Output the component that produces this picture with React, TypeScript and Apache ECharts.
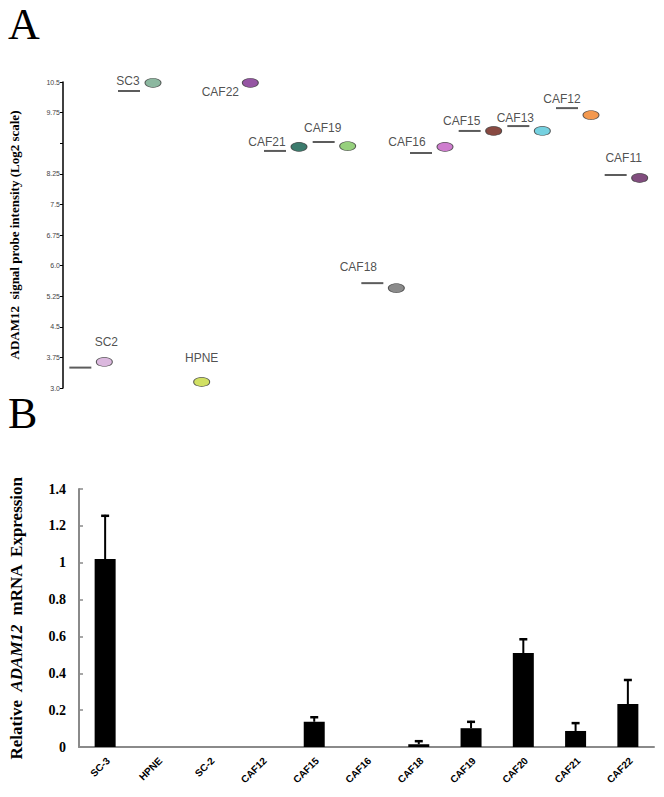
import React, { useEffect, useRef } from "react";
import * as echarts from "echarts";

// Panel A data
const aCategories = ["SC2", "SC3", "HPNE", "CAF22", "CAF21", "CAF19", "CAF18", "CAF16", "CAF15", "CAF13", "CAF12", "CAF11"];
const aPointValues = [3.64, 10.48, 3.15, 10.48, 8.91, 8.93, 5.45, 8.91, 9.3, 9.3, 9.69, 8.15];
const aDashValues = [3.5, 10.28, null, 10.67, 8.81, 9.03, 5.57, 8.76, 9.3, 9.42, 9.86, 8.22];
const aColors = ["#d2a6d6", "#6fa688", "#c6d83c", "#7b2a8c", "#0b5a48", "#7cc45c", "#6e6e6e", "#c25cc2", "#6a1c12", "#52c6d8", "#f07e22", "#62205e"];

// Panel B data
const bCategories = ["SC-3", "HPNE", "SC-2", "CAF12", "CAF15", "CAF16", "CAF18", "CAF19", "CAF20", "CAF21", "CAF22"];
const bValues = [1.02, 0, 0, 0, 0.137, 0, 0.015, 0.102, 0.51, 0.087, 0.233];
const bErrors = [0.24, 0, 0, 0, 0.03, 0, 0.022, 0.04, 0.08, 0.048, 0.136];

// label layout offsets (styling) relative to each point
const labelDx = [2, -25, 0, -30, -32, -25, -38, -38, -32, -27, -29, -16];
const labelDy = [-20, -2, -24, 9, -5, -18, -21, -5, -10, -13, -16, -20];

export default function App() {
  const ref = useRef<HTMLDivElement>(null);
  useEffect(() => {
    document.body.style.margin = "0";
    const chart = echarts.init(ref.current!, null, { renderer: "svg" });
    const panelLetters = [
      { type: "text", left: 8, top: 2, style: { text: "A", font: "44px 'Liberation Serif', serif", fill: "#000" } },
      { type: "text", left: 8, top: 391, style: { text: "B", font: "44px 'Liberation Serif', serif", fill: "#000" } },
    ];
    const option: any = {
      animation: false,
      backgroundColor: "#ffffff",
      graphic: { elements: panelLetters },
      grid: [
        { left: 78, top: 82, width: 595, height: 306 },
        { left: 72, top: 489, width: 582, height: 258 },
      ],
      xAxis: [
        { type: "category", gridIndex: 0, data: aCategories, show: false, boundaryGap: true },
        {
          type: "category",
          gridIndex: 1,
          data: bCategories,
          boundaryGap: true,
          axisLine: { lineStyle: { color: "#8a8a8a", width: 2 } },
          axisTick: { inside: true, length: 4, lineStyle: { color: "#8a8a8a", width: 1.5 } },
          axisLabel: { show: false },
        },
      ],
      yAxis: [
        {
          type: "value",
          gridIndex: 0,
          min: 3,
          max: 10.5,
          interval: 0.75,
          offset: 17,
          splitLine: { show: false },
          axisLine: { show: true, lineStyle: { color: "#000", width: 1.5 } },
          axisTick: { show: true, length: 3, lineStyle: { color: "#000" } },
          axisLabel: {
            fontSize: 7,
            color: "#444",
            fontFamily: "'Liberation Sans', Arial, sans-serif",
            margin: 3,
            formatter: (v: number) => (Math.abs(v - 9) < 1e-6 ? "" : Number.isInteger(v) ? v.toFixed(1) : String(v)),
          },
          name: "ADAM12  signal probe intensity (Log2 scale)",
          nameLocation: "middle",
          nameGap: 42,
          nameTextStyle: { fontFamily: "'Liberation Serif', serif", fontWeight: "bold", fontSize: 13, color: "#000" },
        },
        {
          type: "value",
          gridIndex: 1,
          min: 0,
          max: 1.4,
          interval: 0.2,
          splitLine: { show: false },
          axisLine: { show: true, lineStyle: { color: "#8a8a8a", width: 2 } },
          axisTick: { show: true, inside: true, length: 4, lineStyle: { color: "#8a8a8a", width: 1.5 } },
          axisLabel: {
            fontSize: 14,
            fontWeight: "bold",
            color: "#000",
            fontFamily: "'Liberation Serif', serif",
            margin: 13,
            formatter: (v: number) => (Number.isInteger(Math.round(v * 1000) / 1000) ? String(Math.round(v)) : v.toFixed(1)),
          },
          name: "{n|Relative  }{i|ADAM12}{n|  mRNA  Expression}",
          nameLocation: "middle",
          nameGap: 54,
          nameTextStyle: {
            rich: {
              n: { fontFamily: "'Liberation Serif', serif", fontWeight: "bold", fontSize: 17, color: "#000" },
              i: { fontFamily: "'Liberation Serif', serif", fontWeight: "bold", fontStyle: "italic", fontSize: 17, color: "#000" },
            },
          },
        },
      ],
      series: [
        {
          type: "scatter",
          xAxisIndex: 0,
          yAxisIndex: 0,
          symbol: "rect",
          symbolSize: [22, 2],
          symbolOffset: [-24, 0],
          itemStyle: { color: "#333" },
          data: aDashValues.map((v, i) => [i, v]),
          silent: true,
        },
        {
          type: "scatter",
          xAxisIndex: 0,
          yAxisIndex: 0,
          symbol: "circle",
          symbolSize: [16, 9],
          data: aPointValues.map((v, i) => ({
            value: [i, v],
            itemStyle: { color: aColors[i], borderColor: "#333", borderWidth: 0.8 },
            label: {
              show: true,
              position: "inside",
              offset: [labelDx[i], labelDy[i]],
              formatter: aCategories[i],
              fontSize: 12,
              fontFamily: "'Liberation Sans', Arial, sans-serif",
              color: "#222",
            },
          })),
        },
        {
          type: "bar",
          xAxisIndex: 1,
          yAxisIndex: 1,
          barWidth: 21,
          itemStyle: { color: "#000" },
          data: bValues,
        },
        {
          type: "custom",
          xAxisIndex: 1,
          yAxisIndex: 1,
          data: bValues.map((v, i) => [i, v, bErrors[i]]),
          z: 5,
          renderItem: (params: any, api: any) => {
            const x = api.value(0);
            const v = api.value(1);
            const e = api.value(2);
            if (!e) return null;
            const p0 = api.coord([x, v]);
            const p1 = api.coord([x, v + e]);
            return {
              type: "group",
              children: [
                { type: "line", shape: { x1: p0[0], y1: p0[1], x2: p1[0], y2: p1[1] }, style: { stroke: "#000", lineWidth: 2 } },
                { type: "line", shape: { x1: p1[0] - 4, y1: p1[1] + 1, x2: p1[0] + 4, y2: p1[1] + 1 }, style: { stroke: "#000", lineWidth: 2.5 } },
              ],
            };
          },
        },
      ],
    };
    chart.setOption(option);
    // rotated category labels placed at the axis' own pixel positions
    const catLabels = bCategories.map((c, i) => {
      const p = chart.convertToPixel({ xAxisIndex: 1, yAxisIndex: 1 }, [i, 0]) as number[];
      return {
        type: "text",
        x: p[0] + 3,
        y: p[1] + 12,
        rotation: Math.PI / 4,
        style: {
          text: c,
          align: "right",
          verticalAlign: "middle",
          font: "bold 10px sans-serif",
          fill: "#000",
        },
      };
    });
    chart.setOption({ graphic: { elements: [...panelLetters, ...catLabels] } });
    return () => chart.dispose();
  }, []);
  return <div ref={ref} style={{ width: 664, height: 797 }} />;
}
